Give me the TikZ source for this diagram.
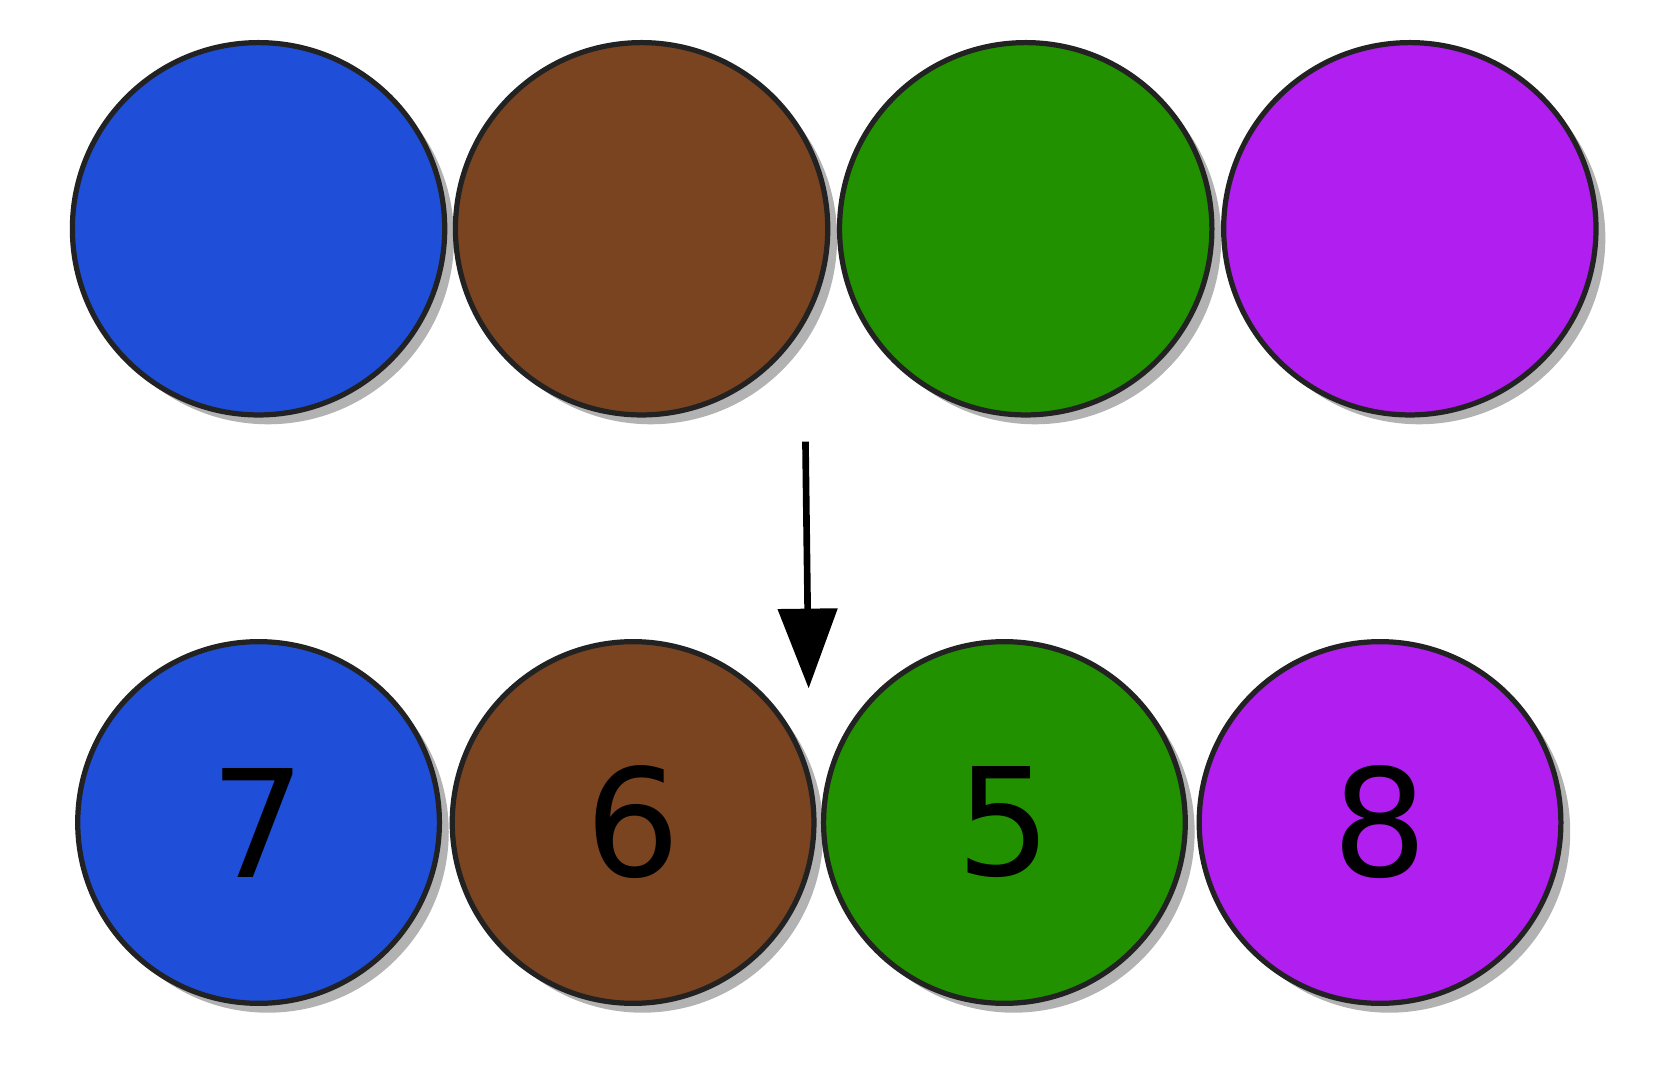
\documentclass[tikz,border=0pt]{standalone}
\usepackage{fontspec}
\setmainfont{DejaVu Sans}
\usetikzlibrary{shadows,arrows.meta}
\definecolor{cb}{HTML}{1F4FD8}
\definecolor{cbr}{HTML}{7A4421}
\definecolor{cg}{HTML}{229100}
\definecolor{cp}{HTML}{B01EF0}
\definecolor{edge}{HTML}{222222}
\tikzset{ball/.style={circle,draw=edge,line width=2.8pt,inner sep=0pt,
  drop shadow={shadow xshift=5pt,shadow yshift=-5pt,fill=black,opacity=0.3},
  font=\fontsize{80}{80}\selectfont}}
\begin{document}
\begin{tikzpicture}[x=0.02cm,y=-0.02cm]
\useasboundingbox (0,0) rectangle (1562,1002);
\foreach \n/\x/\c in {t1/243/cb,t2/603/cbr,t3/964/cg,t4/1325/cp}
  \node[ball,fill=\c,minimum size=7cm] (\n) at (\x,215) {};
\foreach \n/\x/\c/\t in {b1/243/cb/7,b2/595/cbr/6,b3/944/cg/5,b4/1297/cp/8}
  \node[ball,fill=\c,minimum size=6.8cm] (\n) at (\x,773) {\t};
\coordinate (as) at (757,415);
\coordinate (ae) at (760,647);
\draw[line width=2.5mm/2,-{Triangle[width=11mm,length=15mm]}] (as) -- (ae);
\end{tikzpicture}
\end{document}
